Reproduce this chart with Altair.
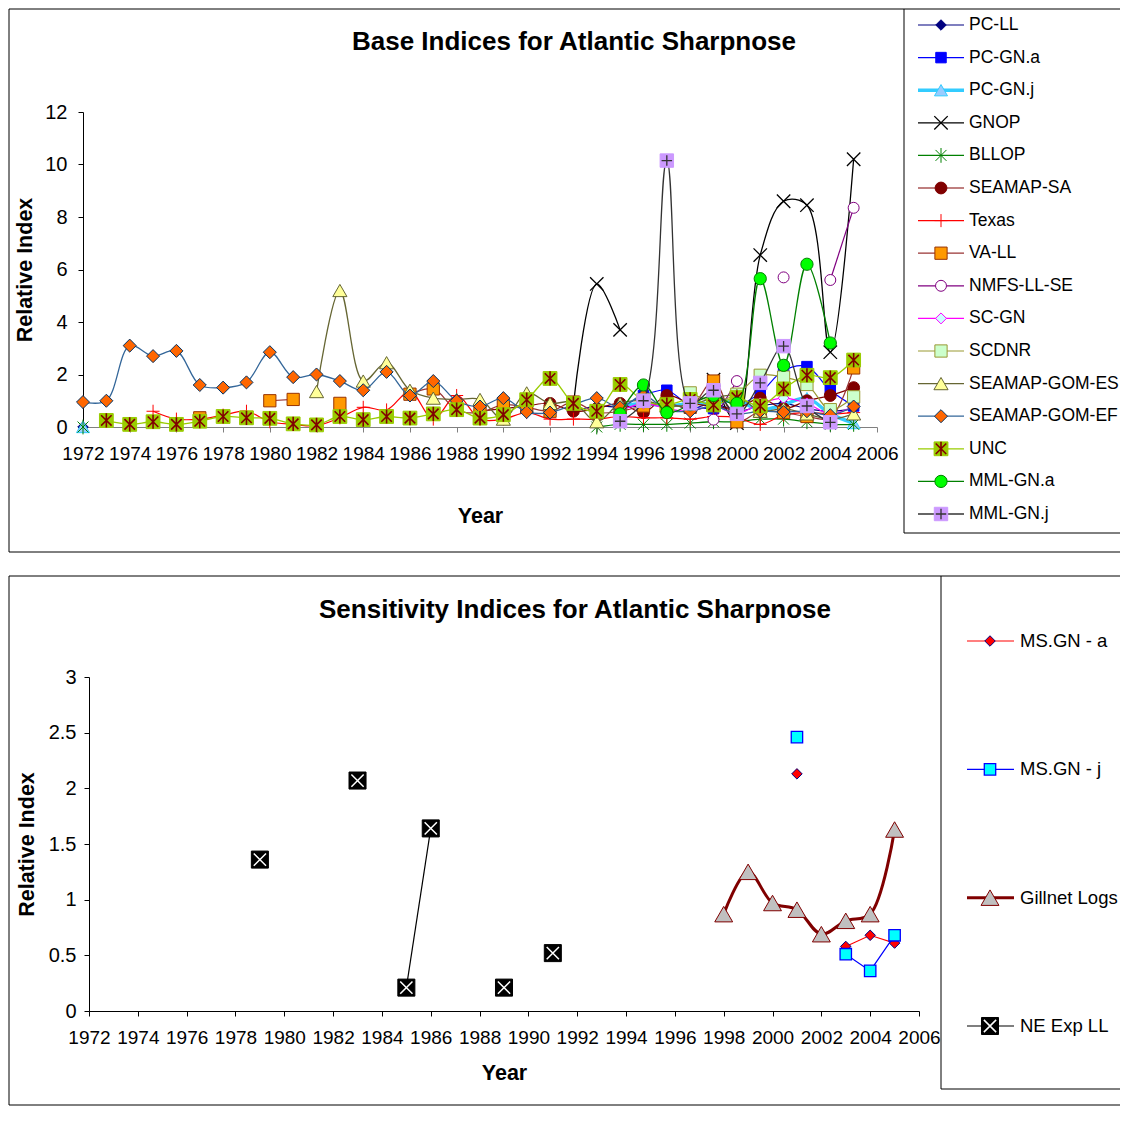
import altair as alt
import pandas as pd

FONT = "Liberation Sans"
X_PATH = "M-1,-1L1,1M-1,1L1,-1"
AST_PATH = "M-1,-1L1,1M-1,1L1,-1M0,-1.35L0,1.35"
PLUS_PATH = "M0,-1L0,1M-1,0L1,0"

# ---------------- Top chart: Base indices (start year, values) ----------------
PC_LL = [(1972, [0.0]), (1993, [0.6, 0.8, 0.75, 0.8, 0.9, 0.7, 0.9, 0.6, 0.8, 0.9, 0.7, 0.6, 0.7])]
PC_GN_A = [(1995, [0.7, 1.2, 1.4, 0.8, 0.7, 0.8, 1.3, 2.15, 2.3, 1.4, 0.8])]
PC_GN_J = [(1972, [0.0]), (1995, [0.8, 0.9, 0.8, 0.9, 0.9, 1.0, 0.65, 0.85, 1.1, 0.5, 0.15])]
GNOP = [(1993, [0.85, 5.45, 3.7, None, None, None, 1.8, 0.15, 6.55, 8.6, 8.45, 2.85, 10.2])]
BLLOP = [(1972, [0.0]), (1994, [0.0, 0.1, 0.1, 0.1, 0.15, 0.2, 0.2, 0.3, 0.3, 0.2, 0.1, 0.1])]
SEAMAP_SA = [(1989, [0.6, 0.7, 0.8, 0.9, 0.6, 0.7, 0.9, 0.55, 1.2, 0.9, 0.8, 0.7, 1.1, 0.7, 1.0, 1.2, 1.5])]
TEXAS = [(1975, [0.6, 0.3, 0.3, 0.45, 0.6, 0.2, 0.1, 0.05, 0.35, 0.75, 0.65, 1.35, 0.3, 1.2, 0.3,
                 0.3, 0.55, 0.3, 0.3, 0.3, 0.4, 0.35, 0.35, 0.3, 0.4, 0.35, 0.1, 0.45, 0.55, 0.5, 0.55])]
VA_LL = [(1977, [0.35, None, None, 1.0, 1.05, None, 0.9, None, None, 1.25, 1.45, 0.65, 0.55, 0.85,
                 0.75, 0.6, 0.95, 0.55, 0.6, 0.8, 0.9, 0.75, 1.75, 0.2, 0.6, 0.55, 0.4, 0.35, 2.25])]
NMFS_LL_SE = [(1999, [0.28, 1.75, None, 5.7, None, 5.6, 8.35])]
SC_GN = [(1995, [0.6, 0.9, 0.7, 0.6, 0.8, 0.5, 0.9, 1.1, 0.9, 0.5, 0.8])]
SCDNR = [(1998, [1.3, 1.0, 1.25, 1.97, 1.9, 1.62, 0.66, 1.15])]
SEAMAP_GOM_ES = [(1982, [1.35, 5.2, 1.75, 2.45, 1.4, 1.1, 1.05, 1.05, 0.3, 1.3, 0.9, 0.95, 0.2, 0.9,
                         1.0, 0.8, 0.85, 1.1, 1.2, 0.6, 0.7, 0.5, 0.3, 0.5])]
SEAMAP_GOM_EF = [(1972, [0.95, 1.0, 3.1, 2.7, 2.9, 1.6, 1.5, 1.7, 2.85, 1.9, 2.0, 1.75, 1.4, 2.1, 1.2,
                         1.75, 1.0, 0.78, 1.1, 0.57, 0.55, 0.85, 1.1, 0.75, 1.2, 0.65, 0.6, 0.8, 0.5,
                         0.6, 0.57, 0.6, 0.45, 0.78])]
UNC = [(1973, [0.25, 0.1, 0.2, 0.1, 0.22, 0.4, 0.35, 0.33, 0.12, 0.08, 0.4, 0.28, 0.4, 0.34, 0.5,
               0.66, 0.34, 0.47, 1.04, 1.85, 0.9, 0.6, 1.62, 1.0, 0.85, 1.05, 0.84, 1.12, 0.8, 1.45,
               1.97, 1.88, 2.55])]
MML_GN_A = [(1995, [0.5, 1.6, 0.55, 0.85, 1.2, 0.9, 5.65, 2.35, 6.2, 3.2])]
MML_GN_J = [(1995, [0.22, 1.0, 10.15, 0.9, 1.4, 0.5, 1.68, 3.08, 0.8, 0.18])]

TOP_NAMES = ["PC-LL", "PC-GN.a", "PC-GN.j", "GNOP", "BLLOP", "SEAMAP-SA", "Texas", "VA-LL",
             "NMFS-LL-SE", "SC-GN", "SCDNR", "SEAMAP-GOM-ES", "SEAMAP-GOM-EF", "UNC",
             "MML-GN.a", "MML-GN.j"]
TOP_SOURCES = [PC_LL, PC_GN_A, PC_GN_J, GNOP, BLLOP, SEAMAP_SA, TEXAS, VA_LL, NMFS_LL_SE, SC_GN,
               SCDNR, SEAMAP_GOM_ES, SEAMAP_GOM_EF, UNC, MML_GN_A, MML_GN_J]
TOP_X_TICKS = [1972, 1974, 1976, 1978, 1980, 1982, 1984, 1986, 1988, 1990, 1992, 1994, 1996,
               1998, 2000, 2002, 2004, 2006]
TOP_Y_TICKS = [0, 2, 4, 6, 8, 10, 12]

# ---------------- Bottom chart: Sensitivity indices ----------------
MS_GN_A = [(2001, [2.13, None, 0.58, 0.68, 0.61])]
MS_GN_J = [(2001, [2.46, None, 0.51, 0.36, 0.68])]
GILLNET = [(1998, [0.87, 1.25, 0.97, 0.91, 0.69, 0.81, 0.87, 1.63])]
NE_EXP_LL = [(1979, [1.36, None, None, None, 2.07, None, 0.21, 1.64, None, None, 0.21, None, 0.52])]

BOT_NAMES = ["MS.GN - a", "MS.GN - j", "Gillnet Logs", "NE Exp LL"]
BOT_SOURCES = [MS_GN_A, MS_GN_J, GILLNET, NE_EXP_LL]
BOT_X_TICKS = TOP_X_TICKS
BOT_Y_TICKS = [0, 0.5, 1, 1.5, 2, 2.5, 3]

# ---------------- styles ----------------
TOP_STYLE = {
    "PC-LL": dict(line="#000080", w=1.2, marks=[dict(shape="diamond", fill="#000080", stroke="#000080", size=110)]),
    "PC-GN.a": dict(line="#0000FF", w=1.2, marks=[dict(shape="square", fill="#0000FF", stroke="#0000FF", size=110)]),
    "PC-GN.j": dict(line="#33CCFF", w=3.5, marks=[dict(shape="triangle-up", fill="#99CCFF", stroke="#33CCFF", size=170)]),
    "GNOP": dict(line="#000000", w=1.3, marks=[dict(shape=X_PATH, stroke="#000000", size=180, sw=1.3)]),
    "BLLOP": dict(line="#008000", w=1.3, marks=[dict(shape=AST_PATH, stroke="#008000", size=120)]),
    "SEAMAP-SA": dict(line="#800000", w=1.2, marks=[dict(shape="circle", fill="#800000", stroke="#800000", size=140)]),
    "Texas": dict(line="#FF0000", w=1.2, marks=[dict(shape=PLUS_PATH, stroke="#FF0000", size=170)]),
    "VA-LL": dict(line="#993333", w=1.2, marks=[dict(shape="square", fill="#FF9900", stroke="#993300", size=150)]),
    "NMFS-LL-SE": dict(line="#800080", w=1.2, marks=[dict(shape="circle", fill="#FFFFFF", stroke="#800080", size=120)]),
    "SC-GN": dict(line="#FF00FF", w=1.2, marks=[dict(shape="diamond", fill="#CCFFFF", stroke="#FF00FF", size=120)]),
    "SCDNR": dict(line="#999933", w=1.2, marks=[dict(shape="square", fill="#CCFFCC", stroke="#999933", size=150)]),
    "SEAMAP-GOM-ES": dict(line="#666633", w=1.3, marks=[dict(shape="triangle-up", fill="#FFFF99", stroke="#666633", size=200)]),
    "SEAMAP-GOM-EF": dict(line="#336699", w=1.3, marks=[dict(shape="diamond", fill="#FF6600", stroke="#003366", size=170)]),
    "UNC": dict(line="#99CC00", w=1.3, marks=[dict(shape="square", fill="#99CC00", stroke="#99CC00", size=190),
                                              dict(shape=AST_PATH, stroke="#800000", size=110, sw=1.6)]),
    "MML-GN.a": dict(line="#008000", w=1.3, marks=[dict(shape="circle", fill="#00FF00", stroke="#008000", size=150)]),
    "MML-GN.j": dict(line="#333333", w=1.3, marks=[dict(shape="square", fill="#CC99FF", stroke="#CC99FF", size=180),
                                                   dict(shape=PLUS_PATH, stroke="#333333", size=110, sw=1.3)]),
}
BOT_STYLE = {
    "MS.GN - a": dict(line="#FF0000", w=1.2, interp="linear",
                      marks=[dict(shape="diamond", fill="#FF0000", stroke="#000080", size=110)]),
    "MS.GN - j": dict(line="#0000FF", w=1.2, interp="linear",
                      marks=[dict(shape="square", fill="#00FFFF", stroke="#0000FF", size=130, sw=1.3)]),
    "Gillnet Logs": dict(line="#800000", w=3, interp="catmull-rom",
                         marks=[dict(shape="triangle-up", fill="#C0C0C0", stroke="#800000", size=320)]),
    "NE Exp LL": dict(line="#000000", w=1.2, interp="linear",
                      marks=[dict(shape="square", fill="#000000", stroke="#000000", size=290),
                             dict(shape=X_PATH, stroke="#FFFFFF", size=150, sw=1.5)]),
}


def to_df(names, sources):
    rows = []
    for name, chunks in zip(names, sources):
        seg = 0
        for start, vals in chunks:
            prev = False
            for i, v in enumerate(vals):
                if v is None:
                    prev = False
                    continue
                if not prev:
                    seg += 1
                rows.append({"series": name, "year": start + i, "value": v, "seg": f"{name}#{seg}"})
                prev = True
    return pd.DataFrame(rows)


def marker_props(m):
    p = dict(shape=m["shape"], size=m["size"], opacity=1, strokeWidth=m.get("sw", 1), stroke=m["stroke"])
    if "fill" in m:
        p.update(filled=True, fill=m["fill"], fillOpacity=1)
    else:
        p.update(filled=False)
    return p


def plot_layers(df, names, styles, xenc, yenc):
    layers = []
    for n in names:
        st = styles[n]
        base = alt.Chart(df[df.series == n])
        layers.append(base.mark_line(color=st["line"], strokeWidth=st["w"],
                                     interpolate=st.get("interp", "catmull-rom"))
                      .encode(x=xenc, y=yenc, detail="seg:N"))
        for m in st["marks"]:
            layers.append(base.mark_point(**marker_props(m)).encode(x=xenc, y=yenc))
    return layers


def legend_layers(names, styles, y_range, x_line, x_mark, x_text, font_size):
    ldf = pd.DataFrame({"series": names, "idx": list(range(len(names)))})
    yenc = alt.Y("idx:Q", scale=alt.Scale(domain=[0, len(names) - 1], range=y_range, nice=False, zero=False),
                 axis=None)
    layers = []
    for n in names:
        st = styles[n]
        b = alt.Chart(ldf).transform_filter(alt.datum.series == n)
        layers.append(b.mark_rule(color=st["line"], strokeWidth=st["w"])
                      .encode(x=alt.value(x_line[0]), x2=alt.value(x_line[1]), y=yenc))
        for m in st["marks"]:
            layers.append(b.mark_point(**marker_props(m)).encode(x=alt.value(x_mark), y=yenc))
    layers.append(alt.Chart(ldf).mark_text(align="left", baseline="middle", fontSize=font_size, font=FONT,
                                           color="black")
                  .encode(x=alt.value(x_text), y=yenc, text="series:N"))
    return layers


DUMMY = pd.DataFrame({"d": [0]})


def hrule(x1, x2, y):
    return alt.Chart(DUMMY).mark_rule(color="black", strokeWidth=1).encode(
        x=alt.value(x1), x2=alt.value(x2), y=alt.value(y))


def vrule(x, y1, y2):
    return alt.Chart(DUMMY).mark_rule(color="black", strokeWidth=1).encode(
        x=alt.value(x), y=alt.value(y1), y2=alt.value(y2))


def title_text(txt, x, y):
    return alt.Chart(DUMMY).mark_text(text=txt, fontSize=26, fontWeight="bold", font=FONT, color="black",
                                      align="center", baseline="middle").encode(x=alt.value(x), y=alt.value(y))


AX = dict(labelColor="black", titleColor="black", labelFont=FONT, titleFont=FONT, grid=False,
          titleFontWeight="bold", titleFontSize=21.5, tickSize=5)

# ---------------- top panel (pixel frame of reference = top plot area) ----------------
TW, TH = 794, 315
top_df = to_df(TOP_NAMES, TOP_SOURCES)
tx = alt.X("year:Q", scale=alt.Scale(domain=[1972, 2006], nice=False, zero=False),
           axis=alt.Axis(values=TOP_X_TICKS, format="d", title="Year", labelFontSize=19, labelPadding=12,
                         titlePadding=42, domainColor="#808080", tickColor="#808080", labelOverlap=False,
                         labelFlush=False, orient="bottom", **AX))
ty = alt.Y("value:Q", scale=alt.Scale(domain=[0, 12], nice=False),
           axis=alt.Axis(values=TOP_Y_TICKS, format="d", title="Relative Index", labelFontSize=20,
                         labelPadding=11, titlePadding=8, domainColor="black", tickColor="black",
                         orient="left", **AX))

top_plot = alt.layer(*plot_layers(top_df, TOP_NAMES, TOP_STYLE, tx, ty))
top_leg = alt.layer(*legend_layers(TOP_NAMES, TOP_STYLE, [-87, 402], (835, 881), 858, 886, 17.5))

RIGHT = 1037
top_frame = [hrule(-74, RIGHT, -103), vrule(-74, -103, 440), hrule(-74, RIGHT, 440),
             vrule(821, -103, 421), hrule(821, RIGHT, 421),
             title_text("Base Indices for Atlantic Sharpnose", 491, -70)]

# ---------------- bottom panel ----------------
B_TOP, B_ZERO = 565, 899        # pixel rows of value 3 and value 0
B_LEFT, B_RIGHT = 6, 836        # pixel columns of 1972 and 2006
bot_df = to_df(BOT_NAMES, BOT_SOURCES)
bx = alt.X("year:Q", scale=alt.Scale(domain=[1972, 2006], range=[B_LEFT, B_RIGHT], nice=False, zero=False),
           axis=alt.Axis(values=BOT_X_TICKS, format="d", title="Year", labelFontSize=19, labelPadding=12,
                         titlePadding=15, domainColor="black", tickColor="black", labelOverlap=False,
                         labelFlush=False, orient="bottom", offset=B_ZERO - TH, **AX))
by = alt.Y("value:Q", scale=alt.Scale(domain=[0, 3], range=[B_ZERO, B_TOP], nice=False),
           axis=alt.Axis(values=BOT_Y_TICKS, format="~g", title="Relative Index", labelFontSize=20,
                         labelPadding=8, titlePadding=10, domainColor="black", tickColor="black",
                         orient="left", offset=-B_LEFT, **AX))

bot_plot = alt.layer(*plot_layers(bot_df, BOT_NAMES, BOT_STYLE, bx, by))
bot_leg = alt.layer(*legend_layers(BOT_NAMES, BOT_STYLE, [529, 914], (884, 931), 907, 937, 18.5))

bot_frame = [hrule(-74, RIGHT, 464), vrule(-74, 464, 993), hrule(-74, RIGHT, 993),
             vrule(858, 464, 977), hrule(858, RIGHT, 977),
             title_text("Sensitivity Indices for Atlantic Sharpnose", 492, 498)]

chart = (alt.layer(*top_frame, *bot_frame, top_plot, top_leg, bot_plot, bot_leg)
         .resolve_scale(x="independent", y="independent")
         .properties(width=TW, height=TH, padding=0, background="white")
         .configure_view(stroke=None))
chart.save("out.html", embed_options={"renderer": "svg", "actions": False})
